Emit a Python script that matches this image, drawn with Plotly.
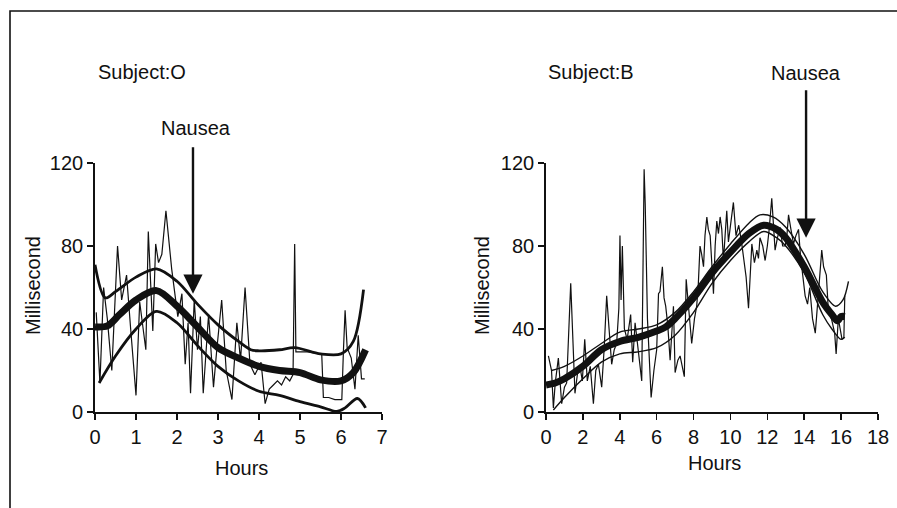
import plotly.graph_objects as go

W, H = 897, 508

# ---------------- Subject O (left panel) ----------------
raw_o_hours = [0.03, 0.12, 0.21, 0.30, 0.41, 0.55, 0.65, 0.77, 0.87, 1.00,
               1.09, 1.18, 1.24, 1.30, 1.41, 1.48, 1.55, 1.63, 1.73, 1.87,
               1.95, 2.02, 2.12, 2.20, 2.27, 2.33, 2.42, 2.50, 2.57, 2.64,
               2.77, 2.89, 2.97, 3.09, 3.20, 3.34, 3.46, 3.55, 3.66, 3.78,
               3.90, 4.05, 4.15, 4.25, 4.35, 4.45, 4.55, 4.65, 4.75, 4.83,
               4.87, 4.90, 5.20, 5.53, 5.57, 5.70, 5.85, 6.02, 6.06, 6.10,
               6.15, 6.25, 6.34, 6.42, 6.50, 6.58]
raw_o_ms = [48, 14, 60, 45, 20, 80, 54, 66, 40, 8,
            53, 40, 30, 87, 39, 81, 72, 76, 97, 69,
            58, 46, 57, 23, 43, 9, 54, 30, 46, 9,
            47, 12, 30, 54, 20, 6, 43, 25, 60, 23,
            18, 24, 4, 11, 13, 15, 13, 17, 15, 18,
            81, 29, 29, 28, 7, 7, 6, 6, 30, 49,
            31, 26, 11, 37, 16, 16]

fit_o_hours = [0.0, 0.3, 0.6, 1.0, 1.5, 2.0, 2.5, 3.0, 3.5, 4.0, 4.5, 5.0, 5.5, 6.0, 6.3, 6.6]
fit_o_ms = [41, 41.5, 47, 54, 58.5, 51, 41, 31, 26, 22, 20, 19, 15.5, 15, 19, 30]

upper_o_hours = [0.0, 0.25, 0.5, 1.0, 1.5, 2.0, 2.5, 3.0, 3.5, 3.8, 4.0, 4.5, 4.87, 5.5, 6.0, 6.3, 6.55]
upper_o_ms = [71, 55, 58, 65, 69, 63, 52, 42, 34, 30, 29.5, 30, 31, 28, 28, 34, 59]

lower_o_hours = [0.1, 0.5, 1.0, 1.5, 2.0, 2.5, 3.0, 3.5, 4.0, 4.5, 5.0, 5.5, 5.9, 6.1, 6.4, 6.6]
lower_o_ms = [14, 27, 40, 48.5, 43, 32, 22, 15, 10, 8, 5, 2.5, 0.3, 2, 6.5, 2]

# ---------------- Subject B (right panel) ----------------
raw_b_hours = [0.13, 0.30, 0.40, 0.50, 0.67, 0.85, 1.00, 1.12, 1.34, 1.57,
               1.70, 1.84, 1.97, 2.10, 2.24, 2.40, 2.57, 2.70, 2.84, 3.02,
               3.15, 3.29, 3.42, 3.56, 3.70, 3.83, 3.95, 4.01, 4.07, 4.14,
               4.25, 4.40, 4.59, 4.70, 4.83, 5.00, 5.19, 5.32, 5.38, 5.50,
               5.70, 5.85, 6.00, 6.10, 6.18, 6.31, 6.40, 6.49, 6.60, 6.73,
               6.82, 6.91, 7.00, 7.15, 7.27, 7.40, 7.50, 7.60, 7.68, 7.76,
               7.90, 8.05, 8.17, 8.26, 8.35, 8.44, 8.54, 8.62, 8.72, 8.80,
               8.90, 9.00, 9.08, 9.17, 9.26, 9.35, 9.44, 9.53, 9.62, 9.71,
               9.80, 9.89, 9.98, 10.07, 10.16, 10.30, 10.45, 10.60, 10.70, 10.85,
               10.98, 11.08, 11.16, 11.30, 11.43, 11.52, 11.60, 11.75, 11.88, 12.00,
               12.10, 12.24, 12.33, 12.42, 12.55, 12.69, 12.83, 12.97, 13.07, 13.15,
               13.28, 13.42, 13.55, 13.69, 13.80, 13.92, 14.05, 14.18, 14.30, 14.45,
               14.60, 14.75, 14.88, 14.95, 15.05, 15.20, 15.30, 15.50, 15.65, 15.73,
               15.85, 15.95, 16.05, 16.15, 16.20]
raw_b_ms = [27, 20, 2, 14, 26, 4, 12, 14, 62, 9,
            18, 22, 15, 35, 15, 22, 4, 20, 23, 12,
            30, 56, 40, 23, 30, 33, 50, 85, 54, 80,
            40, 35, 47, 24, 43, 30, 15, 117, 100, 45,
            7, 20, 30, 57, 58, 70, 55, 51, 42, 25,
            40, 51, 19, 25, 27, 22, 17, 64, 55, 48,
            33, 45, 51, 62, 80, 76, 70, 85, 94, 88,
            85, 70, 57, 80, 92, 86, 94, 88, 73, 85,
            97, 82, 88, 93, 101, 85, 90, 82, 75, 65,
            50, 72, 81, 72, 78, 74, 84, 80, 73, 80,
            88, 103, 88, 78, 84, 89, 80, 80, 86, 95,
            88, 81, 85, 88, 75, 66, 56, 52, 60, 45,
            38, 55, 70, 78, 70, 66, 50, 44, 38, 28,
            45, 40, 35, 36, 56]

fit_b_hours = [0.0, 0.5, 1.0, 2.0, 3.0, 4.0, 5.0, 6.0, 6.5, 7.0, 8.0, 9.0, 10.0, 11.0,
               11.8, 12.5, 13.0, 14.0, 15.0, 15.5, 15.8, 16.0, 16.2]
fit_b_ms = [13, 14, 16, 22, 30, 34, 36, 39, 41, 45, 55, 67, 77, 86,
            90, 88, 84, 70, 53, 47, 44, 46, 46]

upper_b_hours = [0.3, 1.0, 2.0, 3.0, 4.0, 5.0, 6.0, 7.0, 8.0, 9.0, 10.0, 11.0, 11.6,
                 12.3, 13.0, 14.0, 15.0, 15.7, 16.1, 16.4]
upper_b_ms = [20, 22, 27, 33, 38.5, 40, 42, 48, 58, 70, 81, 91, 95,
              94, 89, 76, 58, 51, 54, 63]

lower_b_hours = [0.4, 1.0, 2.0, 3.0, 4.0, 5.0, 6.0, 7.0, 8.0, 9.0, 10.0, 11.0, 11.8,
                 12.5, 13.0, 14.0, 15.0, 15.5, 16.0, 16.2]
lower_b_ms = [1, 7, 16, 24, 28, 29, 31, 37, 48, 62, 73, 82, 87,
              84, 80, 67, 47, 40, 35, 36]

x_ticks_o = [0, 1, 2, 3, 4, 5, 6, 7]
x_ticks_b = [0, 2, 4, 6, 8, 10, 12, 14, 16, 18]
y_ticks = [0, 40, 80, 120]

FONT = "Liberation Sans, Arial, sans-serif"
INK = "#111111"
FS = 20


def px(x):
    return x / W


def py(y):
    return 1 - y / H


fig = go.Figure()

panels = [
    ("x", "y", raw_o_hours, raw_o_ms, fit_o_hours, fit_o_ms, upper_o_hours, upper_o_ms,
     lower_o_hours, lower_o_ms, 2.8),
    ("x2", "y2", raw_b_hours, raw_b_ms, fit_b_hours, fit_b_ms, upper_b_hours, upper_b_ms,
     lower_b_hours, lower_b_ms, 1.4),
]
for xa, ya, rx, ry, fx, fy, ux, uy, lx, ly, bw in panels:
    fig.add_trace(go.Scatter(x=rx, y=ry, xaxis=xa, yaxis=ya, mode="lines",
                             line=dict(color=INK, width=1.2), hoverinfo="skip"))
    fig.add_trace(go.Scatter(x=ux, y=uy, xaxis=xa, yaxis=ya, mode="lines",
                             line=dict(color=INK, width=bw, shape="spline", smoothing=0.9),
                             hoverinfo="skip"))
    fig.add_trace(go.Scatter(x=lx, y=ly, xaxis=xa, yaxis=ya, mode="lines",
                             line=dict(color=INK, width=bw, shape="spline", smoothing=0.9),
                             hoverinfo="skip"))
    fig.add_trace(go.Scatter(x=fx, y=fy, xaxis=xa, yaxis=ya, mode="lines",
                             line=dict(color=INK, width=7, shape="spline", smoothing=0.9),
                             hoverinfo="skip"))

axis_common = dict(showgrid=False, zeroline=False, showline=True, linecolor=INK,
                   linewidth=1.8, ticks="outside", ticklen=6, tickwidth=1.6,
                   tickcolor=INK, automargin=False, fixedrange=True,
                   tickfont=dict(family=FONT, size=FS, color=INK))

ydom = [py(412), py(163)]
fig.update_layout(
    template="none",
    width=W, height=H, autosize=False,
    margin=dict(l=0, r=0, t=0, b=0, pad=0),
    paper_bgcolor="white", plot_bgcolor="white",
    showlegend=False,
    xaxis=dict(domain=[px(95), px(382)], range=[0, 7], tickvals=x_ticks_o,
               anchor="y", **axis_common),
    yaxis=dict(domain=ydom, range=[0, 120], tickvals=y_ticks, anchor="x", **axis_common),
    xaxis2=dict(domain=[px(546), px(878)], range=[0, 18], tickvals=x_ticks_b,
                anchor="y2", **axis_common),
    yaxis2=dict(domain=ydom, range=[0, 120], tickvals=y_ticks, anchor="x2", **axis_common),
)

texts = [
    ("Subject:O", 142, 72, 0),
    ("Subject:B", 591, 72, 0),
    ("Nausea", 196, 128, 0),
    ("Nausea", 806, 73, 0),
    ("Hours", 241, 468, 0),
    ("Hours", 714, 463, 0),
    ("Millisecond", 33, 286, -90),
    ("Millisecond", 482, 286, -90),
]
for t, x, y, ang in texts:
    fig.add_annotation(text=t, x=px(x), y=py(y), xref="paper", yref="paper",
                       showarrow=False, textangle=ang, xanchor="center", yanchor="middle",
                       font=dict(family=FONT, size=FS, color=INK))

# Nausea arrows (tip in data coordinates, tail offset in pixels)
fig.add_annotation(x=2.39, y=57, xref="x", yref="y", text="", showarrow=True,
                   ax=0, ay=-148, arrowhead=2, arrowsize=1.6, arrowwidth=2.4,
                   arrowcolor=INK, standoff=0)
fig.add_annotation(x=14.1, y=84, xref="x2", yref="y2", text="", showarrow=True,
                   ax=0, ay=-149, arrowhead=2, arrowsize=1.6, arrowwidth=2.4,
                   arrowcolor=INK, standoff=0)

# page frame (top and left rules), drawn as one open path
fig.add_shape(type="path", xref="paper", yref="paper",
              path=f"M {px(10)},0 L {px(10)},{py(11)} L {px(897)},{py(11)}",
              line=dict(color=INK, width=1.6))

fig.write_html(
    "out.html",
    config={"displayModeBar": False, "staticPlot": True},
    post_script=(
        "document.documentElement.style.overflow='hidden';"
        "document.body.style.margin='0';"
        "document.body.style.overflow='hidden';"
    ),
)
